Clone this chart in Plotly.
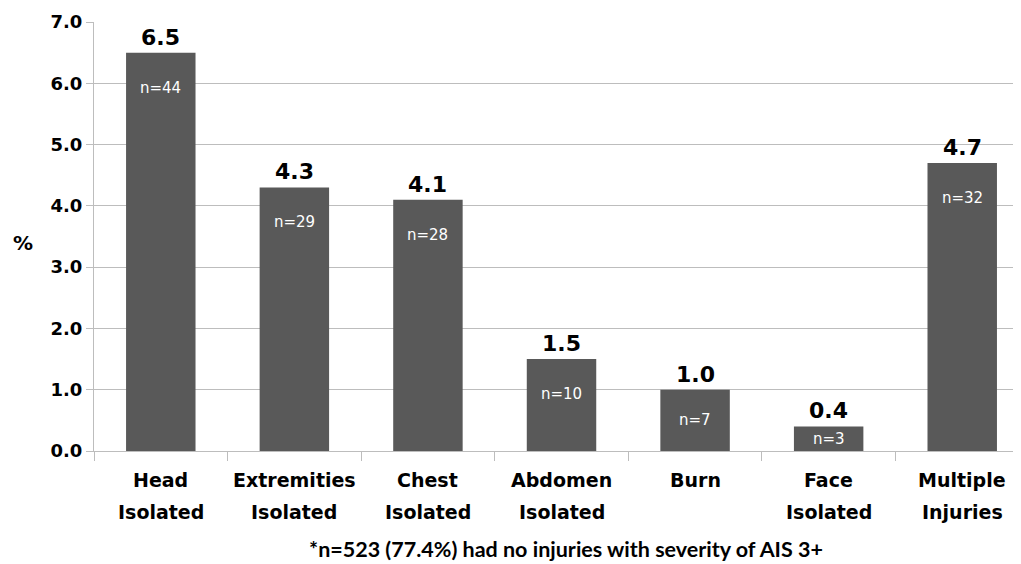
import plotly.graph_objects as go

categories = ["Head Isolated", "Extremities Isolated", "Chest Isolated", "Abdomen Isolated",
              "Burn", "Face Isolated", "Multiple Injuries"]
label_line1 = ["Head", "Extremities", "Chest", "Abdomen", "Burn", "Face", "Multiple"]
label_line2 = ["Isolated", "Isolated", "Isolated", "Isolated", "", "Isolated", "Injuries"]
values = [6.5, 4.3, 4.1, 1.5, 1.0, 0.4, 4.7]
counts = [44, 29, 28, 10, 7, 3, 32]
y_ticks = [0, 1, 2, 3, 4, 5, 6, 7]
footnote = "*n=523 (77.4%) had no injuries with severity of AIS 3+"

BAR = "#595959"
GRID = "#bdbdbd"
FONT = "DejaVu Sans"

fig = go.Figure()
fig.add_trace(go.Bar(x=categories, y=values, marker=dict(color=BAR, line=dict(width=0)),
                     width=0.52, hoverinfo="skip"))

ann = []
for c, v, n in zip(categories, values, counts):
    ann.append(dict(x=c, y=v, xref="x", yref="y", text=f"<b>{v:.1f}</b>", showarrow=False,
                    yanchor="bottom", yshift=1, font=dict(family=FONT, size=22, color="black")))
    ann.append(dict(x=c, y=max(v - 0.57, v / 2), xref="x", yref="y", text=f"n={n}",
                    showarrow=False, yanchor="middle",
                    font=dict(family=FONT, size=15, color="white")))
for c, l1, l2 in zip(categories, label_line1, label_line2):
    ann.append(dict(x=c, y=0, xref="x", yref="paper", text=f"<b>{l1}</b>", showarrow=False,
                    yanchor="middle", yshift=-29, font=dict(family=FONT, size=19, color="black")))
    if l2:
        ann.append(dict(x=c, y=0, xref="x", yref="paper", text=f"<b>{l2}</b>", showarrow=False,
                        yanchor="middle", yshift=-61, font=dict(family=FONT, size=19, color="black")))
ann.append(dict(x=0.509, y=0, xref="paper", yref="paper", text=f"<b>{footnote}</b>",
                showarrow=False, yanchor="middle", yshift=-98,
                font=dict(family="Lato", size=21.5, color="black")))
ann.append(dict(xref="paper", yref="paper", x=-0.077, y=0.485, xanchor="center",
                yanchor="middle", text="<b>%</b>", showarrow=False,
                font=dict(family=FONT, size=20, color="black")))

# the page body adds an 8px margin, so the figure is sized 8px smaller
fig.update_layout(
    width=1013, height=556,
    margin=dict(l=86, r=0, t=14, b=113),
    paper_bgcolor="white", plot_bgcolor="white",
    showlegend=False, annotations=ann, bargap=0.48,
    xaxis=dict(range=[-0.5, 6.44], showticklabels=False, tickson="boundaries",
               ticks="outside", ticklen=9, tickcolor=GRID, showline=True, linecolor=GRID,
               linewidth=1, showgrid=False, zeroline=False, fixedrange=True, automargin=False),
    yaxis=dict(range=[0, 7], tickvals=y_ticks, ticktext=[f"<b>{t:.1f}</b>" for t in y_ticks],
               tickfont=dict(family=FONT, size=18, color="black"), ticks="outside",
               ticklen=7, tickcolor=GRID, showline=True, linecolor=GRID, linewidth=1,
               showgrid=True, gridcolor=GRID, gridwidth=1, zeroline=False, fixedrange=True,
               automargin=False),
)

fig.write_html("out.html")
